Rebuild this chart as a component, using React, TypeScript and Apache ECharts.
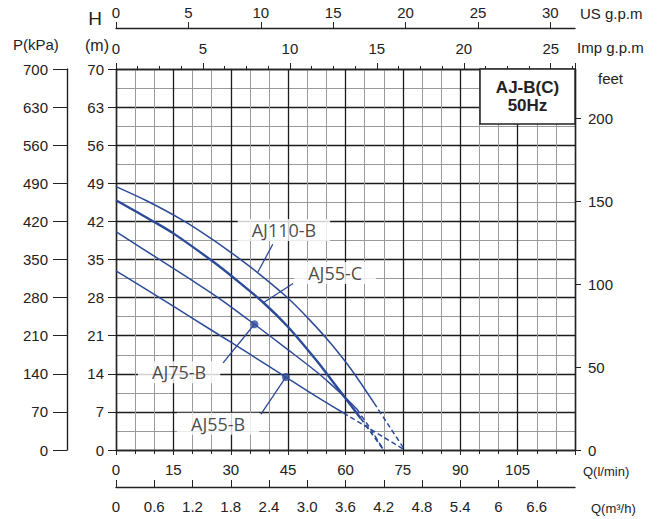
import React, { useEffect, useRef } from "react";
import * as echarts from "echarts";

// ---- data (flow Q in l/min, head H in m) ----
const aj110bSolid = [[0, 48.4], [8, 45.8], [17.5, 42.2], [25, 38.8], [31, 35.8], [37, 32.6], [44.5, 28.2], [50.5, 24.0], [56, 19.7], [61.5, 14.8], [67.5, 8.6]];
const aj110bDashed = [[67.5, 8.6], [71.5, 4.3], [75.5, 0]];
const aj55cSolid = [[0, 45.9], [10, 41.9], [15, 39.8], [25, 34.8], [31, 31.5], [38.5, 27.1], [45, 22.6], [52, 16.8], [56, 13.2], [60, 9.5], [64, 5.8]];
const aj55cDashed = [[64, 5.8], [67, 2.9], [70, 0]];
const aj75bSolid = [[0, 40.1], [10, 35.6], [20, 31.1], [27.5, 27.6], [36.2, 23.1], [45, 18.4], [52, 14.6], [56, 12.2], [60, 9.6], [63, 7.5]];
const aj75bDashed = [[63, 7.5], [66.5, 3.9], [70, 0]];
const aj55bSolid = [[0, 32.9], [10, 28.6], [15.9, 26.0], [25, 22.0], [35, 17.6], [44.4, 13.4], [52, 10.0], [59.5, 6.8]];
const aj55bDashed = [[59.5, 6.8], [67.5, 3.4], [75.5, 0]];

const dotPoints = [[36.2, 23.1], [44.4, 13.4]];

const curveLabels = ["AJ110-B", "AJ55-C", "AJ75-B", "AJ55-B"];
const curveLabelPos = [[43.9, 40.4], [57.3, 32.5], [16.5, 14.3], [26.7, 4.8]];
const pointerStart = [[41.0, 37.8], [46.3, 30.6], [28.0, 16.0], [37.9, 6.6]];
const pointerEnd = [[37.1, 32.7], [38.4, 27.0], [36.2, 23.1], [44.4, 13.4]];

const qTickLabels = ["0", "15", "30", "45", "60", "75", "90", "105"];
const m3TickLabels = ["0", "0.6", "1.2", "1.8", "2.4", "3.0", "3.6", "4.2", "4.8", "5.4", "6", "6.6"];
const headTickLabels = ["0", "7", "14", "21", "28", "35", "42", "49", "56", "63", "70"];
const kpaTickLabels = ["0", "70", "140", "210", "280", "350", "420", "490", "560", "630", "700"];
const feetTickLabels = ["0", "50", "100", "150", "200"];
const impTickLabels = ["0", "5", "10", "15", "20", "25"];
const usTickLabels = ["0", "5", "10", "15", "20", "25", "30"];

const Q_MAX = 120; // l/min
const H_MAX = 70; // m

const BLUE = "#2c4a98";
const INK = "#222";
const TICK_FONT = "Liberation Sans";

function pick(arr: string[], v: number, step: number) {
  const i = Math.round(v / step);
  if (Math.abs(i * step - v) > 1e-6) return "";
  return arr[i] ?? "";
}

export default function App() {
  const ref = useRef<HTMLDivElement>(null);
  useEffect(() => {
    if (!ref.current) return;
    const chart = echarts.init(ref.current, undefined, { renderer: "svg" });
    const axisLine = { show: true, onZero: false, lineStyle: { color: INK, width: 1.4 } };
    const labelStyle = { color: INK, fontSize: 15, fontFamily: TICK_FONT };
    const solid = (name: string, data: number[][], width = 1.5) => ({
      name, type: "line", data, smooth: 0.3, symbol: "none", xAxisIndex: 0, yAxisIndex: 0,
      lineStyle: { color: BLUE, width }, z: 3,
    });
    const dashed = (name: string, data: number[][], width = 1.5) => ({
      name, type: "line", data, smooth: 0.2, symbol: "none", xAxisIndex: 0, yAxisIndex: 0,
      lineStyle: { color: BLUE, width, type: [5, 3] }, z: 3,
    });
    const pointers = curveLabels.map((n, i) => ({
      name: n + "-ptr", type: "line", data: [pointerStart[i], pointerEnd[i]], symbol: "none",
      xAxisIndex: 0, yAxisIndex: 0, lineStyle: { color: BLUE, width: 1.3 }, z: 4,
    }));
    chart.setOption({
      animation: false,
      grid: { left: 116, top: 69, width: 459, height: 381, containLabel: false },
      xAxis: [
        {
          type: "value", position: "bottom", min: 0, max: Q_MAX, interval: 15,
          axisLine, axisTick: { show: true, length: 5, lineStyle: { color: INK } },
          minorTick: { show: true, splitNumber: 3, length: 4, lineStyle: { color: INK } },
          splitLine: { show: true, lineStyle: { color: "#1c1c1c", width: 1.3 } },
          minorSplitLine: { show: true, lineStyle: { color: "#9a9a9a", width: 1 } },
          axisLabel: { ...labelStyle, margin: 12, showMaxLabel: false, formatter: (v: number) => pick(qTickLabels, v, 15) },
        },
        {
          type: "value", position: "bottom", offset: 37, min: 0, max: 7.2, interval: 0.6,
          axisLine, axisTick: { show: true, inside: true, length: 7, lineStyle: { color: INK } },
          splitLine: { show: false },
          axisLabel: { ...labelStyle, margin: 12, showMaxLabel: false, formatter: (v: number) => pick(m3TickLabels, v, 0.6) },
        },
        {
          type: "value", position: "top", offset: 0, min: 0, max: Q_MAX / 4.54609, interval: 5,
          axisLine, axisTick: { show: true, length: 6, lineStyle: { color: INK } },
          minorTick: { show: true, splitNumber: 4, length: 3, lineStyle: { color: INK } },
          splitLine: { show: false },
          axisLabel: { ...labelStyle, margin: 13, showMaxLabel: false, formatter: (v: number) => pick(impTickLabels, v, 5) },
        },
        {
          type: "value", position: "top", offset: 41, min: 0, max: Q_MAX / 3.78541, interval: 5,
          axisLine, axisTick: { show: true, length: 6, lineStyle: { color: INK } },
          splitLine: { show: false },
          axisLabel: { ...labelStyle, margin: 8, showMaxLabel: false, formatter: (v: number) => pick(usTickLabels, v, 5) },
        },
      ],
      yAxis: [
        {
          type: "value", position: "left", min: 0, max: H_MAX, interval: 7,
          axisLine, axisTick: { show: true, length: 8, lineStyle: { color: INK } },
          minorTick: { show: false, splitNumber: 2 },
          splitLine: { show: true, lineStyle: { color: "#1c1c1c", width: 1.3 } },
          minorSplitLine: { show: true, lineStyle: { color: "#9a9a9a", width: 1 } },
          axisLabel: { ...labelStyle, margin: 12, formatter: (v: number) => pick(headTickLabels, v, 7) },
        },
        {
          type: "value", position: "right", min: 0, max: H_MAX * 3.28084, interval: 50,
          axisLine, axisTick: { show: true, length: 6, lineStyle: { color: INK } },
          splitLine: { show: false },
          axisLabel: { ...labelStyle, margin: 13, showMaxLabel: false, formatter: (v: number) => pick(feetTickLabels, v, 50) },
        },
        {
          type: "value", position: "left", offset: 49, min: 0, max: 700, interval: 70,
          axisLine, axisTick: { show: true, length: 14, lineStyle: { color: INK } },
          splitLine: { show: false },
          axisLabel: { ...labelStyle, margin: 19, formatter: (v: number) => pick(kpaTickLabels, v, 70) },
        },
      ],
      series: [
        solid("AJ110-B", aj110bSolid),
        dashed("AJ110-B dashed", aj110bDashed),
        solid("AJ55-C", aj55cSolid, 2.4),
        dashed("AJ55-C dashed", aj55cDashed, 1.8),
        solid("AJ75-B", aj75bSolid),
        dashed("AJ75-B dashed", aj75bDashed),
        solid("AJ55-B", aj55bSolid),
        dashed("AJ55-B dashed", aj55bDashed),
        ...pointers,
        {
          name: "dots", type: "scatter", data: dotPoints, symbol: "circle", symbolSize: 8,
          itemStyle: { color: BLUE }, xAxisIndex: 0, yAxisIndex: 0, z: 5,
        },
        {
          name: "labels", type: "scatter", symbolSize: 2, itemStyle: { color: "rgba(0,0,0,0)" },
          xAxisIndex: 0, yAxisIndex: 0, z: 6,
          data: curveLabels.map((n, i) => ({ name: n, value: curveLabelPos[i] })),
          label: {
            show: true, position: "inside", formatter: "{b}", color: "#1a1a1a",
            fontSize: 18, fontFamily: "Open Sans", backgroundColor: "#fff", padding: [2, 14],
          },
        },
      ],
      graphic: [
        { type: "rect", shape: { x: 480, y: 69, width: 95, height: 55 }, style: { fill: "#fff", stroke: INK, lineWidth: 1.5 }, z: 100 },
        { type: "text", x: 527.5, y: 87, z: 101, style: { text: "AJ-B(C)", fill: INK, font: "bold 17px Liberation Sans", textAlign: "center", textVerticalAlign: "middle" } },
        { type: "text", x: 527.5, y: 105, z: 101, style: { text: "50Hz", fill: INK, font: "bold 17px Liberation Sans", textAlign: "center", textVerticalAlign: "middle" } },
        { type: "text", x: 13, y: 44, style: { text: "P(kPa)", fill: INK, font: "15px Liberation Sans", textVerticalAlign: "middle" } },
        { type: "text", x: 95, y: 18, style: { text: "H", fill: INK, font: "19px Liberation Sans", textAlign: "center", textVerticalAlign: "middle" } },
        { type: "text", x: 97, y: 45, style: { text: "(m)", fill: INK, font: "16px Liberation Sans", textAlign: "center", textVerticalAlign: "middle" } },
        { type: "text", x: 580, y: 13, style: { text: "US g.p.m", fill: INK, font: "15px Liberation Sans", textVerticalAlign: "middle" } },
        { type: "text", x: 577, y: 47, style: { text: "Imp g.p.m", fill: INK, font: "15px Liberation Sans", textVerticalAlign: "middle" } },
        { type: "text", x: 598, y: 78, style: { text: "feet", fill: INK, font: "15px Liberation Sans", textVerticalAlign: "middle" } },
        { type: "text", x: 583, y: 471, style: { text: "Q(l/min)", fill: INK, font: "13px Liberation Sans", textVerticalAlign: "middle" } },
        { type: "text", x: 591, y: 508, style: { text: "Q(m³/h)", fill: INK, font: "13px Liberation Sans", textVerticalAlign: "middle" } },
      ],
    });
    return () => chart.dispose();
  }, []);
  return <div ref={ref} style={{ width: 660, height: 519, position: "absolute", left: 0, top: 0, background: "#fff" }} />;
}
